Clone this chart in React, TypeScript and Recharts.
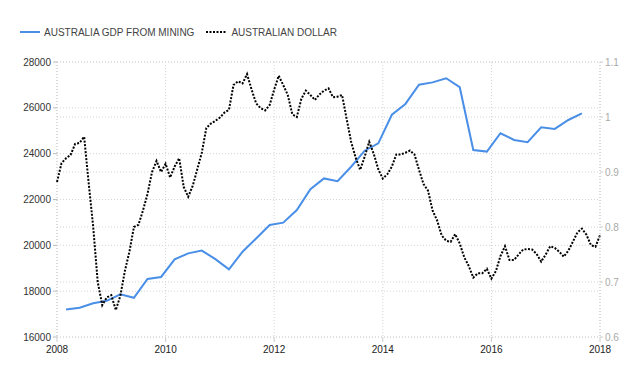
import { LineChart, Line, XAxis, YAxis, CartesianGrid, Legend } from 'recharts'

const FONT = '"Liberation Sans", Arial, sans-serif'
const BLUE = '#4a8fe7'

const YEAR_TICKS = [2008, 2010, 2012, 2014, 2016, 2018]
const GDP_TICKS = [16000, 18000, 20000, 22000, 24000, 26000, 28000]
const AUD_TICKS = [0.6, 0.7, 0.8, 0.9, 1, 1.1]

// quarterly, AUD million, from 2008 Q1
const GDP_START = 2008
const GDP_MINING = [
  17200, 17280, 17470, 17580, 17860, 17710, 18530, 18620, 19390, 19650,
  19770, 19400, 18950, 19720, 20300, 20890, 20990, 21540, 22450, 22920,
  22800, 23430, 24130, 24450, 25700, 26170, 27010, 27110, 27290, 26900,
  24160, 24090, 24890, 24600, 24500, 25150, 25080, 25470, 25760,
]

// monthly AUD/USD, from Jan 2008
const AUD_START = 2008
const AUD_USD = [
  0.882, 0.916, 0.925, 0.931, 0.951, 0.953, 0.964, 0.88, 0.8, 0.7, 0.658, 0.672,
  0.676, 0.649, 0.675, 0.72, 0.755, 0.8, 0.804, 0.83, 0.86, 0.9, 0.92, 0.9,
  0.915, 0.89, 0.91, 0.925, 0.873, 0.855, 0.875, 0.905, 0.935, 0.98, 0.988, 0.993,
  0.999, 1.008, 1.013, 1.058, 1.065, 1.061, 1.078, 1.05, 1.025, 1.016, 1.012, 1.022,
  1.05, 1.075, 1.058, 1.04, 1.005, 1.0, 1.033, 1.048, 1.04, 1.031, 1.041, 1.048,
  1.052, 1.036, 1.037, 1.04, 0.997, 0.955, 0.926, 0.904, 0.928, 0.955, 0.933, 0.905,
  0.888, 0.896, 0.91, 0.932, 0.932, 0.935, 0.939, 0.932, 0.904, 0.878, 0.866, 0.83,
  0.812, 0.785, 0.775, 0.773, 0.787, 0.77, 0.745, 0.729, 0.708, 0.716, 0.716, 0.724,
  0.706, 0.72, 0.747, 0.765, 0.74, 0.74, 0.75, 0.759, 0.76, 0.759, 0.751, 0.737,
  0.75, 0.765, 0.762, 0.755, 0.746, 0.757, 0.773, 0.79, 0.797, 0.786, 0.767, 0.764,
  0.785,
]

const gdpData = GDP_MINING.map((v, i) => ({ t: GDP_START + (i * 3 + 2) / 12, gdp: v }))
const audData = AUD_USD.map((v, i) => ({ t: AUD_START + i / 12, aud: v }))

function LegendContent() {
  return (
    <div
      style={{
        display: 'flex',
        alignItems: 'center',
        height: 20,
        fontSize: 10,
        color: '#444',
        fontFamily: FONT,
        whiteSpace: 'nowrap',
      }}
    >
      <svg width={20} height={4} style={{ marginLeft: 20 }}>
        <line x1={0} y1={2} x2={20} y2={2} stroke={BLUE} strokeWidth={2} />
      </svg>
      <span style={{ marginLeft: 4 }}>AUSTRALIA GDP FROM MINING</span>
      <svg width={20} height={4} style={{ marginLeft: 12 }}>
        <line x1={0} y1={2} x2={20} y2={2} stroke="#000" strokeWidth={2} strokeDasharray="2 1.5" />
      </svg>
      <span style={{ marginLeft: 5 }}>AUSTRALIAN DOLLAR</span>
    </div>
  )
}

export default function App() {
  const gridStyle = { stroke: '#d4d4d4', strokeDasharray: '1 2' }
  return (
    <div style={{ position: 'absolute', left: 0, top: 0, background: '#fff' }}>
      <LineChart width={640} height={385} margin={{ top: 42, right: 0, bottom: 18, left: 0 }}>
        <CartesianGrid yAxisId="left" {...gridStyle} />
        <CartesianGrid yAxisId="right" vertical={false} {...gridStyle} />
        <XAxis
          dataKey="t"
          type="number"
          domain={[2008, 2018]}
          ticks={YEAR_TICKS}
          height={30}
          tickSize={5}
          tickMargin={4}
          tick={{ fontSize: 10, fill: '#222', fontFamily: FONT }}
          tickLine={{ stroke: '#ccc' }}
          axisLine={false}
        />
        <YAxis
          yAxisId="left"
          width={57}
          domain={[16000, 28000]}
          ticks={GDP_TICKS}
          tickSize={4}
          tickMargin={2}
          tick={{ fontSize: 10, fill: '#333', fontFamily: FONT }}
          tickLine={{ stroke: '#bbb' }}
          axisLine={{ stroke: '#ccc', strokeDasharray: '1 2' }}
        />
        <YAxis
          yAxisId="right"
          orientation="right"
          width={40}
          domain={[0.6, 1.1]}
          ticks={AUD_TICKS}
          tickSize={3}
          tickMargin={2}
          tick={{ fontSize: 10, fill: '#aaa', fontFamily: FONT }}
          tickLine={{ stroke: '#ccc' }}
          axisLine={{ stroke: '#ccc', strokeDasharray: '1 2' }}
        />
        <Legend
          verticalAlign="top"
          align="left"
          content={() => <LegendContent />}
          wrapperStyle={{ top: 22, left: 0, width: 640 }}
        />
        <Line
          yAxisId="left"
          data={gdpData}
          dataKey="gdp"
          type="linear"
          stroke={BLUE}
          strokeWidth={2}
          dot={false}
          isAnimationActive={false}
        />
        <Line
          yAxisId="right"
          data={audData}
          dataKey="aud"
          type="linear"
          stroke="#000"
          strokeWidth={2}
          strokeDasharray="2 1.5"
          dot={false}
          isAnimationActive={false}
        />
      </LineChart>
    </div>
  )
}
